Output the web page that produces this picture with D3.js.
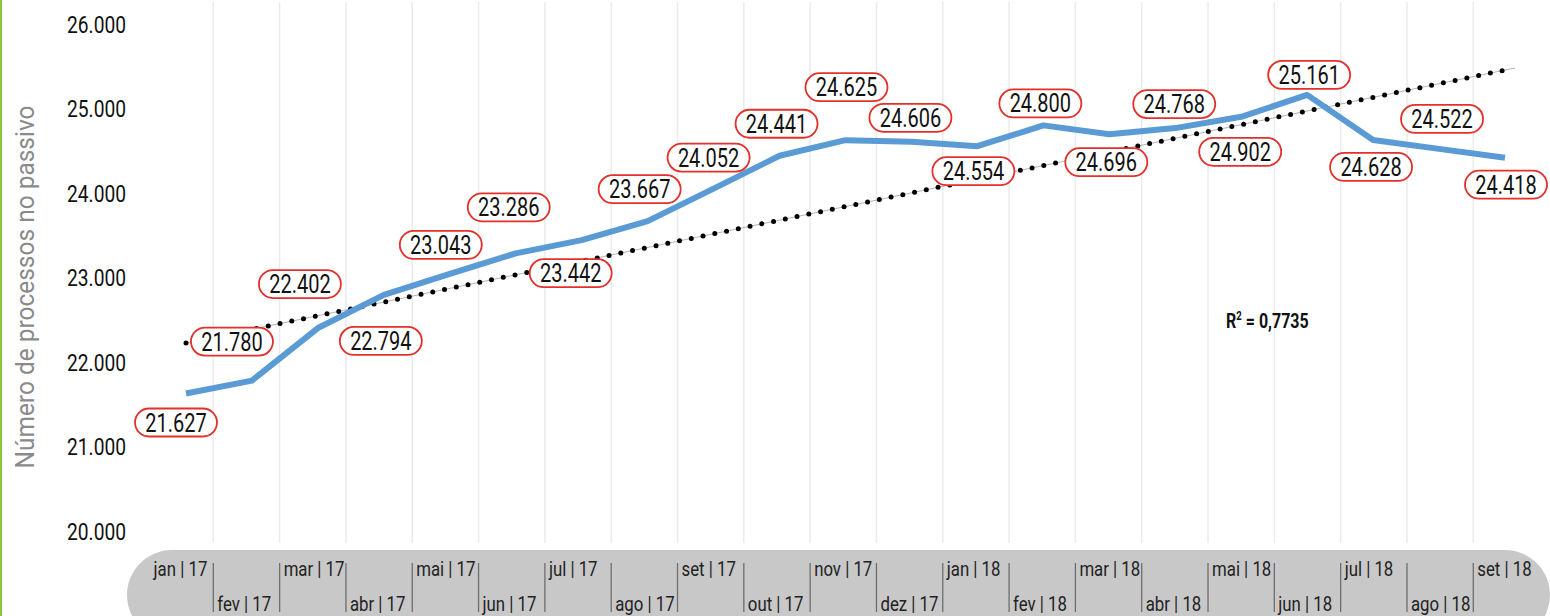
<!DOCTYPE html>
<html><head><meta charset="utf-8">
<script src="https://cdn.jsdelivr.net/npm/d3@7"></script>
<style>html,body{margin:0;padding:0;background:#fff;overflow:hidden;} svg{display:block;}</style>
</head><body>
<svg id="chart" width="1550" height="616"></svg>
<script>
// ---------- data ----------
const categories = ["jan | 17","fev | 17","mar | 17","abr | 17","mai | 17","jun | 17","jul | 17","ago | 17","set | 17","out | 17","nov | 17","dez | 17",
  "jan | 18","fev | 18","mar | 18","abr | 18","mai | 18","jun | 18","jul | 18","ago | 18","set | 18"];
const values = [21627,21780,22402,22794,23043,23286,23442,23667,24052,24441,24625,24606,24554,24800,24696,24768,24902,25161,24628,24522,24418];
const yTicks = [20000,21000,22000,23000,24000,25000,26000];
const trendValues = [22225, 25455];   // linear trend read at first and last category
const r2Value = "0,7735";
const yTitle = "Número de processos no passivo";

// ---------- layout (label offsets in px from each point) ----------
const labelOffsets = [[-10,29],[-20,-39],[-18,-44],[-3,46],[-9,-29],[-7,-46],[-11,33],[-8,-32],[-5,-31],[-3,-32],[1,-53],
  [-1,-24],[-4,25],[-3,-22],[-3,28],[-1,-24],[-1,35],[2,-20],[-2,27],[3,-30],[1,27]];

const FONT = "Roboto,'Liberation Sans',sans-serif";
const SX = 0.8; // horizontal condensing of text
const svg = d3.select("#chart");
const fmt = d3.formatLocale({decimal:",", thousands:".", grouping:[3], currency:["",""]}).format(",d");

const x = d3.scalePoint().domain(categories).range([186, 1505]);
const xb = d3.scaleBand().domain(categories).range([147, 1539.6]);
const y = d3.scaleLinear().domain([20000, 26000]).range([531, 24]);

// green left border
svg.append("rect").attr("x",0).attr("y",0).attr("width",2).attr("height",616).attr("fill","#8cc63f");

// vertical gridlines
svg.append("g").selectAll("line").data(categories.slice(1)).join("line")
  .attr("x1", d => xb(d)).attr("x2", d => xb(d))
  .attr("y1", 2).attr("y2", 543)
  .attr("stroke", "#ebebeb").attr("stroke-width", 1.5);

// y tick labels
svg.append("g").selectAll("text").data(yTicks).join("text")
  .attr("transform", d => `translate(67,${y(d)}) scale(${SX},1)`)
  .attr("dy", "0.36em")
  .attr("font-family", FONT).attr("font-size", 24).attr("fill", "#111")
  .text(d => fmt(d));

// y title
svg.append("text")
  .attr("transform", "translate(34,287) rotate(-90)")
  .attr("text-anchor", "middle")
  .attr("font-family", FONT).attr("font-size", 25).attr("fill", "#8a8a8a")
  .attr("textLength", 363).attr("lengthAdjust", "spacingAndGlyphs")
  .text(yTitle);

// x axis band
svg.append("rect").attr("x", 127).attr("y", 550).attr("width", 1423).attr("height", 90).attr("rx", 45)
  .attr("fill", "#c8c8c8");
svg.append("g").selectAll("line").data(categories.slice(1)).join("line")
  .attr("x1", d => xb(d)).attr("x2", d => xb(d))
  .attr("y1", 563).attr("y2", 612)
  .attr("stroke", "#6e6e6e").attr("stroke-width", 1.3);
svg.append("g").selectAll("text").data(categories).join("text")
  .attr("transform", (d,i) => `translate(${i === 0 ? xb(categories[1]) - 6 : xb(d) + 4},${i % 2 === 0 ? 576 : 611}) scale(${SX},1)`)
  .attr("text-anchor", (d,i) => i === 0 ? "end" : "start")
  .attr("font-family", FONT).attr("font-size", 21).attr("fill", "#222")
  .text(d => d);

// trendline
const tx0 = x(categories[0]), tx1 = x(categories[categories.length-1]);
const tExt = 10;
const slopePx = (y(trendValues[1]) - y(trendValues[0])) / (tx1 - tx0);
svg.append("line")
  .attr("x1", tx0).attr("y1", y(trendValues[0]))
  .attr("x2", tx1 + tExt).attr("y2", y(trendValues[1]) + slopePx * tExt)
  .attr("stroke", "#b5b5b5").attr("stroke-width", 1);
svg.append("line")
  .attr("x1", tx0).attr("y1", y(trendValues[0]))
  .attr("x2", tx1).attr("y2", y(trendValues[1]))
  .attr("stroke", "#000").attr("stroke-width", 5)
  .attr("stroke-linecap", "round").attr("stroke-dasharray", "0 12");

// series line
svg.append("path").datum(values)
  .attr("d", d3.line().x((d,i) => x(categories[i])).y(d => y(d)))
  .attr("fill", "none").attr("stroke", "#5b9bd5").attr("stroke-width", 6)
  .attr("stroke-linejoin", "round");

// data labels
const lg = svg.append("g").selectAll("g").data(values).join("g")
  .attr("transform", (d,i) => `translate(${x(categories[i]) + labelOffsets[i][0]},${y(d) + labelOffsets[i][1]})`);
lg.append("rect").attr("x", -41).attr("y", -14).attr("width", 82).attr("height", 28).attr("rx", 14)
  .attr("fill", "#fff").attr("stroke", "#e2302b").attr("stroke-width", 1.8);
lg.append("text").attr("text-anchor", "middle").attr("dy", "0.36em")
  .attr("transform", `scale(${SX},1)`)
  .attr("font-family", FONT).attr("font-size", 25).attr("fill", "#111")
  .text(d => fmt(d));

// R² annotation
const r2 = svg.append("text").attr("transform", `translate(1226,328) scale(${SX},1)`)
  .attr("font-family", FONT).attr("font-size", 20).attr("font-weight", "bold").attr("fill", "#111");
r2.append("tspan").text("R");
r2.append("tspan").attr("font-size", 12).attr("dy", -8).text("2");
r2.append("tspan").attr("dy", 8).text(" = " + r2Value);
</script>
</body></html>
